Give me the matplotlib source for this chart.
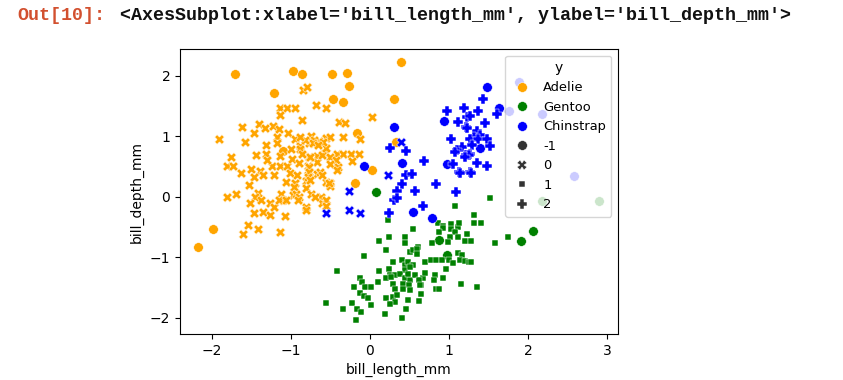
import matplotlib.pyplot as plt
from matplotlib.lines import Line2D

# penguins: standardised bill length / depth, coloured by species (y),
# marker = cluster label (-1 = noise)
species = ['Adelie', 'Gentoo', 'Chinstrap']
colors = {'Adelie': 'orange', 'Gentoo': 'green', 'Chinstrap': 'blue'}
cluster_labels = [-1, 0, 1, 2]
markers = {-1: 'o', 0: 'X', 1: (4, 0, 45), 2: 'P'}

adelie_noise = [(-1.71, 2.02), (-0.97, 2.08), (-0.86, 2.02), (-1.21, 1.72), (-0.48, 2.02),
                (-0.29, 2.05), (-0.27, 1.83), (-0.47, 1.62), (-0.34, 1.57), (0.39, 2.22),
                (0.31, 1.61), (-0.16, 1.05), (-1.10, 0.76), (0.03, 0.44), (-0.19, 0.23),
                (0.33, 0.91), (-1.98, -0.53), (-2.17, -0.83)]

adelie_c0 = [(-0.84, 1.77), (-0.79, 1.82), (-1.14, 1.46), (-1.05, 1.46), (-0.94, 1.46),
             (-1.14, 1.35), (-0.68, 1.52), (-0.55, 1.46), (-0.86, 1.27), (-1.62, 1.15),
             (-1.40, 1.20), (-1.47, 1.05), (-1.91, 0.96), (-1.58, 0.90), (-1.32, 1.13),
             (-1.23, 1.16), (-1.15, 1.12), (-1.18, 0.99), (-1.03, 1.05), (-0.95, 0.96),
             (-0.75, 1.01), (-0.64, 0.92), (-0.55, 0.97), (-1.31, 0.85), (-1.18, 0.88),
             (-0.88, 0.83), (-0.77, 0.88), (-1.44, 0.69), (-1.31, 0.70), (-1.14, 0.68),
             (-1.00, 0.79), (-0.88, 0.79), (-0.77, 0.65), (-0.67, 0.68), (-0.57, 0.72),
             (-1.75, 0.65), (-1.80, 0.50), (-1.73, 0.50), (-1.63, 0.39), (-1.50, 0.46),
             (-1.39, 0.43), (-1.46, 0.33), (-1.35, 0.35), (-1.24, 0.50), (-1.14, 0.50),
             (-1.05, 0.50), (-1.21, 0.36), (-1.01, 0.39), (-0.92, 0.36), (-0.78, 0.50),
             (-0.78, 0.36), (-0.67, 0.58), (-1.53, 0.20), (-1.06, 0.24), (-0.95, 0.22),
             (-0.81, 0.26), (-0.81, 0.14), (-0.55, 0.25), (-1.81, 0.00), (-1.69, 0.04),
             (-1.41, 0.06), (-1.45, 0.00), (-1.51, -0.11), (-1.46, -0.27), (-1.35, -0.26),
             (-1.26, -0.31), (-1.26, -0.11), (-1.21, -0.17), (-1.12, 0.05), (-1.10, -0.06),
             (-1.07, -0.32), (-0.96, 0.16), (-0.97, 0.02), (-0.93, 0.04), (-0.89, 0.00),
             (-0.81, -0.17), (-0.81, -0.22), (-0.74, 0.05), (-0.62, 0.00), (-0.61, -0.11),
             (-0.55, -0.06), (-0.51, 0.22), (-0.51, 0.17), (-0.56, -0.16), (-0.67, 0.38),
             (-0.63, 0.41), (-0.34, 0.99), (-0.13, 0.95), (-0.42, 0.71), (-0.34, 0.71),
             (-0.24, 0.71), (-0.14, 0.71), (-0.51, 0.66), (-0.43, 0.60), (-0.51, 0.54),
             (-0.40, 0.49), (-0.61, 0.69), (-0.55, 0.80), (-0.51, 0.99), (-0.59, 0.91),
             (-0.70, 0.93), (-0.72, 0.89), (-0.65, 0.85), (-0.82, 0.93), (-0.88, 0.99),
             (-0.76, 0.66), (-0.86, 0.71), (-0.39, 1.24), (-0.32, 1.21), (0.03, 1.31),
             (-0.23, 0.59), (-0.42, 0.44), (-0.52, 0.22), (-1.54, -0.47), (-1.60, -0.62),
             (-1.41, -0.53), (-1.14, -0.58), (-1.38, -0.06), (-1.15, -0.06), (-1.06, -0.06),
             (-0.91, -0.06), (-0.69, -0.01), (-0.77, 0.49), (-0.77, 0.41), (-0.78, 0.33),
             (-0.76, 0.27), (-1.30, 0.60), (-0.98, 0.62), (-0.90, 0.55), (-0.60, 0.36)]

gentoo_noise = [(0.08, 0.08), (0.97, -0.97), (0.88, -0.72), (1.91, -0.73), (2.06, -0.57),
                (2.18, -0.07), (2.89, -0.07)]

gentoo_c1 = [(1.52, -0.03), (1.07, -0.16), (1.31, -0.31), (1.31, -0.43), (1.40, -0.43),
             (0.23, -0.38), (0.86, -0.44), (0.93, -0.49), (1.02, -0.45), (1.11, -0.50),
             (1.02, -0.54), (1.07, -0.58), (1.13, -0.44), (0.54, -0.53), (1.01, -0.66),
             (0.99, -0.75), (1.12, -0.66), (1.23, -0.62), (1.20, -0.73), (1.28, -0.73),
             (0.92, -0.52), (0.88, -0.58), (0.44, -0.66), (0.44, -0.76), (0.24, -0.67),
             (0.11, -0.73), (0.79, -0.76), (0.61, -0.83), (0.51, -0.91), (0.54, -0.88),
             (0.59, -0.86), (0.20, -0.88), (0.59, -0.95), (-0.08, -0.98), (0.70, -1.08),
             (0.77, -1.04), (0.84, -1.05), (0.91, -1.05), (1.00, -1.05), (1.05, -1.10),
             (1.12, -0.93), (1.16, -0.97), (1.14, -1.05), (1.20, -1.06), (1.25, -1.08),
             (0.96, -1.19), (0.29, -1.08), (0.40, -1.05), (0.44, -1.13), (0.48, -1.08),
             (0.55, -1.13), (0.44, -1.21), (0.51, -1.16), (0.11, -1.23), (-0.41, -1.23),
             (0.24, -1.20), (0.25, -1.30), (0.32, -1.30), (0.38, -1.27), (0.20, -1.35),
             (0.27, -1.33), (0.44, -1.35), (0.42, -1.44), (0.51, -1.38), (0.49, -1.46),
             (0.57, -1.30), (0.67, -1.34), (0.65, -1.46), (0.70, -1.26), (0.62, -1.38),
             (0.48, -1.27), (0.82, -1.30), (0.81, -1.38), (0.84, -1.53), (0.88, -1.53),
             (0.93, -1.34), (1.15, -1.45), (1.35, -1.50), (-0.13, -1.34), (-0.10, -1.41),
             (-0.06, -1.50), (-0.20, -1.49), (0.02, -1.50), (0.10, -1.41), (0.29, -1.45),
             (0.32, -1.53), (-0.13, -1.60), (-0.07, -1.64), (-0.02, -1.67), (0.21, -1.68),
             (0.29, -1.66), (0.32, -1.74), (0.46, -1.85), (0.65, -1.61), (0.62, -1.72),
             (0.42, -1.52), (0.51, -1.55), (0.48, -1.71), (0.34, -1.63), (0.25, -1.77),
             (0.63, -1.46), (-0.55, -1.76), (-0.22, -1.76), (-0.34, -1.85), (0.02, -1.79),
             (-0.16, -1.86), (-0.11, -1.90), (0.19, -1.94), (-0.18, -2.04), (0.41, -2.00),
             (1.74, -0.67), (1.58, -0.77), (1.28, -1.08)]

chinstrap_noise = [(1.48, 1.81), (1.63, 1.46), (0.94, 1.25), (0.31, 1.15), (1.39, 0.80),
                   (0.40, 0.55), (-0.07, 0.50), (0.97, 0.54), (0.54, -0.25), (0.78, -0.36),
                   (1.76, 1.41), (2.17, 1.36), (2.58, 0.34), (1.89, 1.89)]

chinstrap_c0 = [(0.39, 0.91), (0.23, 0.35), (-0.27, 0.10), (-0.56, -0.27), (-0.27, -0.22),
                (-0.13, -0.27)]

chinstrap_c2 = [(1.43, 1.61), (1.61, 1.36), (0.98, 1.41), (1.19, 1.46), (1.37, 1.41),
                (1.23, 1.31), (1.12, 1.23), (1.45, 1.22), (1.22, 1.15), (1.36, 1.09),
                (1.39, 1.02), (1.31, 0.99), (1.26, 0.96), (1.37, 0.95), (1.48, 0.95),
                (1.03, 0.95), (1.16, 0.82), (1.10, 0.77), (1.52, 0.83), (1.29, 0.85),
                (1.22, 0.69), (1.26, 0.71), (1.36, 0.55), (1.48, 0.50), (1.13, 0.40),
                (1.26, 0.40), (0.84, 0.21), (1.09, 0.08), (1.05, 0.54), (1.07, 0.74),
                (1.25, 0.69), (1.20, 0.65), (1.14, 0.39), (1.28, 0.39), (1.23, 1.13),
                (1.26, 1.33), (0.26, 0.81), (0.46, 0.75), (0.68, 0.59), (0.46, 0.36),
                (0.53, 0.38), (0.41, 0.21), (0.34, 0.10), (0.57, 0.10), (0.30, -0.06),
                (0.34, -0.03), (0.67, -0.15), (0.24, -0.27)]

groups = [('Adelie', -1, adelie_noise), ('Adelie', 0, adelie_c0),
          ('Gentoo', -1, gentoo_noise), ('Gentoo', 1, gentoo_c1),
          ('Chinstrap', -1, chinstrap_noise), ('Chinstrap', 0, chinstrap_c0),
          ('Chinstrap', 2, chinstrap_c2)]


def main():
    fig = plt.figure(figsize=(8.43, 3.8), dpi=100)
    ax = fig.add_axes([0.2135, 0.121, 0.5195, 0.750])

    for sp, lab, pts in groups:
        xs = [p[0] for p in pts]
        ys = [p[1] for p in pts]
        ax.scatter(xs, ys, s=48, c=colors[sp], marker=markers[lab],
                   edgecolors='w', linewidths=0.35)

    ax.set_xlim(-2.40, 3.135)
    ax.set_ylim(-2.27, 2.44)
    ax.set_xticks([-2, -1, 0, 1, 2, 3])
    ax.set_yticks([-2, -1, 0, 1, 2])
    ax.set_xlabel('bill_length_mm')
    ax.set_ylabel('bill_depth_mm')

    handles = [Line2D([], [], ls='', marker='o', ms=7, color=colors[sp], mec='w', mew=0.35)
               for sp in species]
    handles += [Line2D([], [], ls='', marker=markers[l], ms=7, color='.2', mec='w', mew=0.35)
                for l in cluster_labels]
    labels = species + [str(l) for l in cluster_labels]
    ax.legend(handles, labels, title='y', loc='upper right', fontsize=9.4,
              title_fontsize=10, handlelength=1.7)

    # notebook output line above the plot
    fig.text(0.021, 0.96, 'Out[10]:', color='#d2502f', family='Liberation Mono',
             fontsize=13.2, weight='bold', va='center', ha='left')
    fig.text(0.142, 0.96, "<AxesSubplot:xlabel='bill_length_mm', ylabel='bill_depth_mm'>",
             color='#111111', family='Liberation Mono', fontsize=13.2, weight='bold',
             va='center', ha='left')

    fig.savefig('out.png', dpi=100)


if __name__ == "__main__":
    main()
